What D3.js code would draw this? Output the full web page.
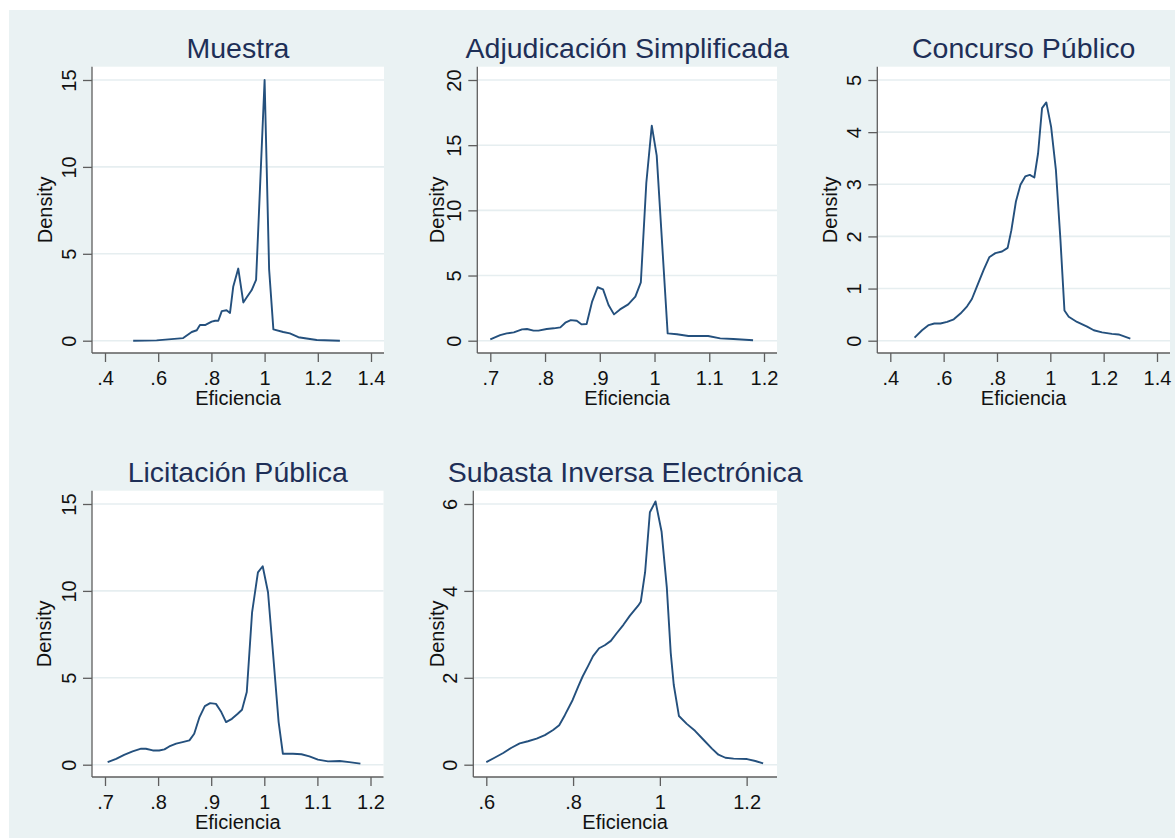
<!DOCTYPE html>
<html>
<head>
<meta charset="utf-8">
<script src="https://cdn.jsdelivr.net/npm/d3@7"></script>
<style>
  html, body { margin: 0; padding: 0; background: #ffffff; }
  svg { display: block; font-family: "Liberation Sans", Arial, sans-serif; }
</style>
</head>
<body>
<div id="chart"></div>
<script>
// kernel density of Eficiencia
const muestraX = [0.506, 0.594, 0.694, 0.726, 0.745, 0.757, 0.776, 0.801, 0.814, 0.826, 0.839, 0.857, 0.870, 0.882, 0.901, 0.920, 0.933, 0.951, 0.968, 1.000, 1.017, 1.033, 1.070, 1.095, 1.127, 1.158, 1.196, 1.283];
const muestraY = [0.00, 0.02, 0.15, 0.50, 0.60, 0.90, 0.90, 1.10, 1.15, 1.15, 1.70, 1.75, 1.60, 3.10, 4.15, 2.20, 2.50, 2.90, 3.50, 15.0, 4.10, 0.65, 0.50, 0.42, 0.20, 0.13, 0.04, 0.00];

const adjudicacionX = [0.700, 0.718, 0.730, 0.743, 0.758, 0.767, 0.779, 0.788, 0.803, 0.816, 0.828, 0.837, 0.847, 0.858, 0.867, 0.876, 0.886, 0.896, 0.906, 0.916, 0.926, 0.937, 0.952, 0.965, 0.975, 0.985, 0.995, 1.004, 1.024, 1.041, 1.062, 1.083, 1.098, 1.120, 1.144, 1.180];
const adjudicacionY = [0.10, 0.43, 0.56, 0.64, 0.87, 0.90, 0.77, 0.77, 0.90, 0.95, 1.02, 1.38, 1.58, 1.53, 1.25, 1.28, 3.00, 4.10, 3.94, 2.74, 2.02, 2.40, 2.79, 3.38, 4.48, 12.1, 16.5, 14.2, 0.56, 0.49, 0.36, 0.36, 0.36, 0.18, 0.13, 0.03];

const concursoX = [0.491, 0.519, 0.544, 0.565, 0.588, 0.613, 0.638, 0.663, 0.688, 0.706, 0.725, 0.750, 0.771, 0.794, 0.819, 0.840, 0.854, 0.871, 0.888, 0.906, 0.923, 0.940, 0.954, 0.969, 0.985, 1.003, 1.021, 1.038, 1.053, 1.069, 1.100, 1.138, 1.163, 1.194, 1.231, 1.256, 1.300];
const concursoY = [0.06, 0.20, 0.30, 0.33, 0.33, 0.36, 0.41, 0.52, 0.66, 0.80, 1.04, 1.36, 1.60, 1.68, 1.71, 1.78, 2.12, 2.67, 2.99, 3.15, 3.18, 3.13, 3.59, 4.46, 4.57, 4.10, 3.27, 1.93, 0.58, 0.46, 0.36, 0.27, 0.20, 0.16, 0.13, 0.12, 0.04];

const licitacionX = [0.705, 0.721, 0.736, 0.752, 0.768, 0.777, 0.790, 0.802, 0.812, 0.821, 0.834, 0.846, 0.859, 0.868, 0.878, 0.888, 0.898, 0.909, 0.919, 0.928, 0.939, 0.950, 0.958, 0.967, 0.977, 0.988, 0.997, 1.007, 1.016, 1.027, 1.035, 1.054, 1.070, 1.085, 1.101, 1.120, 1.142, 1.160, 1.181];
const licitacionY = [0.15, 0.34, 0.57, 0.77, 0.92, 0.92, 0.82, 0.82, 0.88, 1.05, 1.21, 1.30, 1.40, 1.78, 2.74, 3.37, 3.54, 3.50, 3.03, 2.45, 2.64, 2.93, 3.16, 4.18, 8.77, 11.07, 11.42, 9.92, 6.57, 2.45, 0.63, 0.63, 0.60, 0.48, 0.29, 0.19, 0.21, 0.15, 0.06];

const subastaX = [0.600, 0.619, 0.639, 0.658, 0.677, 0.696, 0.716, 0.735, 0.754, 0.768, 0.781, 0.799, 0.812, 0.822, 0.835, 0.846, 0.860, 0.873, 0.887, 0.900, 0.916, 0.931, 0.950, 0.956, 0.966, 0.977, 0.990, 1.004, 1.016, 1.025, 1.032, 1.044, 1.062, 1.081, 1.100, 1.120, 1.135, 1.151, 1.170, 1.201, 1.220, 1.238];
const subastaY = [0.06, 0.16, 0.27, 0.39, 0.49, 0.54, 0.60, 0.68, 0.80, 0.91, 1.14, 1.49, 1.80, 2.03, 2.28, 2.50, 2.68, 2.75, 2.85, 3.02, 3.22, 3.43, 3.66, 3.75, 4.43, 5.81, 6.06, 5.36, 4.08, 2.58, 1.84, 1.12, 0.94, 0.78, 0.58, 0.37, 0.23, 0.16, 0.14, 0.13, 0.085, 0.03];

// titles and ticks
const titles = ['Muestra', 'Adjudicación Simplificada', 'Concurso Público', 'Licitación Pública', 'Subasta Inversa Electrónica'];
const xTicks1 = [0.4, 0.6, 0.8, 1, 1.2, 1.4];
const xTickLabels1 = ['.4', '.6', '.8', '1', '1.2', '1.4'];
const xTicks2 = [0.7, 0.8, 0.9, 1, 1.1, 1.2];
const xTickLabels2 = ['.7', '.8', '.9', '1', '1.1', '1.2'];
const xTicks5 = [0.6, 0.8, 1, 1.2];
const xTickLabels5 = ['.6', '.8', '1', '1.2'];
const yTicksMuestra = [0, 5, 10, 15];
const yTicksAdjudicacion = [0, 5, 10, 15, 20];
const yTicksConcurso = [0, 1, 2, 3, 4, 5];
const yTicksLicitacion = [0, 5, 10, 15];
const yTicksSubasta = [0, 2, 4, 6];

const W = 1175;
const H = 838;
const pad = 13; // inner margin of the plot region

const panels = [
  {title: titles[0], xs: muestraX, ys: muestraY, xTicks: xTicks1, xLabels: xTickLabels1,
    yTicks: yTicksMuestra, xDom: [0.4, 1.4], rect: [92, 66.7, 384, 353], dens: 45.5},
  {title: titles[1], xs: adjudicacionX, ys: adjudicacionY, xTicks: xTicks2, xLabels: xTickLabels2,
    yTicks: yTicksAdjudicacion, xDom: [0.7, 1.2], rect: [477.3, 66.7, 777, 353], dens: 38.5},
  {title: titles[2], xs: concursoX, ys: concursoY, xTicks: xTicks1, xLabels: xTickLabels1,
    yTicks: yTicksConcurso, xDom: [0.4, 1.4], rect: [877.3, 66.7, 1170, 353], dens: 45.5},
  {title: titles[3], xs: licitacionX, ys: licitacionY, xTicks: xTicks2, xLabels: xTickLabels2,
    yTicks: yTicksLicitacion, xDom: [0.7, 1.2], rect: [92, 490.7, 383.5, 777], dens: 46.3},
  {title: titles[4], xs: subastaX, ys: subastaY, xTicks: xTicks5, xLabels: xTickLabels5,
    yTicks: yTicksSubasta, xDom: [0.6, 1.24], rect: [473.3, 490.7, 777, 777], dens: 34.5}
];

const svg = d3.select('#chart')
    .append('svg')
    .attr('width', W)
    .attr('height', H);

// graph background
svg.append('rect')
    .attr('x', 9)
    .attr('y', 10)
    .attr('width', W - 9)
    .attr('height', H - 10)
    .attr('fill', '#eaf2f3');

panels.forEach(function(p) {
  const [x0, y0, x1, y1] = p.rect;
  const yMax = p.yTicks[p.yTicks.length - 1];

  const x = d3.scaleLinear()
      .domain(p.xDom)
      .range([x0 + pad, x1 - pad]);
  const y = d3.scaleLinear()
      .domain([0, yMax])
      .range([y1 - 12.3, y0 + 13.3]);

  const g = svg.append('g');

  // white plot region
  g.append('rect')
      .attr('x', x0)
      .attr('y', y0)
      .attr('width', x1 - x0)
      .attr('height', y1 - y0)
      .attr('fill', '#ffffff');

  // horizontal grid
  g.selectAll('line.grid')
      .data(p.yTicks)
      .enter()
      .append('line')
      .attr('class', 'grid')
      .attr('x1', x0)
      .attr('x2', x1)
      .attr('y1', d => y(d))
      .attr('y2', d => y(d))
      .attr('stroke', '#e6eef0')
      .attr('stroke-width', 1.6);

  // density curve
  const pts = p.xs.map((v, i) => [v, p.ys[i]]);
  const line = d3.line()
      .x(d => x(d[0]))
      .y(d => y(d[1]));
  g.append('path')
      .datum(pts)
      .attr('d', line)
      .attr('fill', 'none')
      .attr('stroke', '#24507d')
      .attr('stroke-width', 1.9)
      .attr('stroke-linejoin', 'round');

  // x axis
  const xAxis = g.append('g')
      .attr('transform', 'translate(0,' + y1 + ')')
      .call(d3.axisBottom(x)
          .tickValues(p.xTicks)
          .tickFormat((d, i) => p.xLabels[i])
          .tickSize(9)
          .tickSizeOuter(0)
          .tickPadding(6));
  xAxis.select('.domain').attr('d', 'M' + x0 + ',0H' + x1);

  // y axis
  const yAxis = g.append('g')
      .attr('transform', 'translate(' + x0 + ',0)')
      .call(d3.axisLeft(y)
          .tickValues(p.yTicks)
          .tickFormat(d3.format('d'))
          .tickSize(9)
          .tickSizeOuter(0));
  yAxis.select('.domain').attr('d', 'M0,' + y0 + 'V' + y1);
  yAxis.selectAll('.tick text')
      .attr('x', null)
      .attr('dy', null)
      .attr('text-anchor', 'middle')
      .attr('transform', 'translate(-23.5,0) rotate(-90)')
      .attr('dy', '0.36em');

  [xAxis, yAxis].forEach(function(a) {
    a.select('.domain').attr('stroke', '#5e5e5e').attr('stroke-width', 1.3);
    a.selectAll('.tick line').attr('stroke', '#5e5e5e').attr('stroke-width', 1.3);
    a.selectAll('.tick text')
        .attr('fill', '#111111')
        .style('font-size', '20px')
        .style('font-family', '"Liberation Sans", Arial, sans-serif');
  });
  xAxis.selectAll('.tick text').attr('dy', null).attr('y', 32);

  // axis titles
  g.append('text')
      .attr('x', (x0 + x1) / 2)
      .attr('y', y1 + 52)
      .attr('text-anchor', 'middle')
      .attr('fill', '#111111')
      .style('font-size', '20px')
      .text('Eficiencia');

  g.append('text')
      .attr('transform', 'translate(' + (x0 - p.dens) + ',' + ((y0 + y1) / 2) + ') rotate(-90)')
      .attr('text-anchor', 'middle')
      .attr('dy', '0.25em')
      .attr('fill', '#111111')
      .style('font-size', '20px')
      .text('Density');

  // panel title
  g.append('text')
      .attr('x', (x0 + x1) / 2)
      .attr('y', y0 - 8.5)
      .attr('text-anchor', 'middle')
      .attr('fill', '#1e2f57')
      .style('font-size', '28.5px')
      .text(p.title);
});
</script>
</body>
</html>
